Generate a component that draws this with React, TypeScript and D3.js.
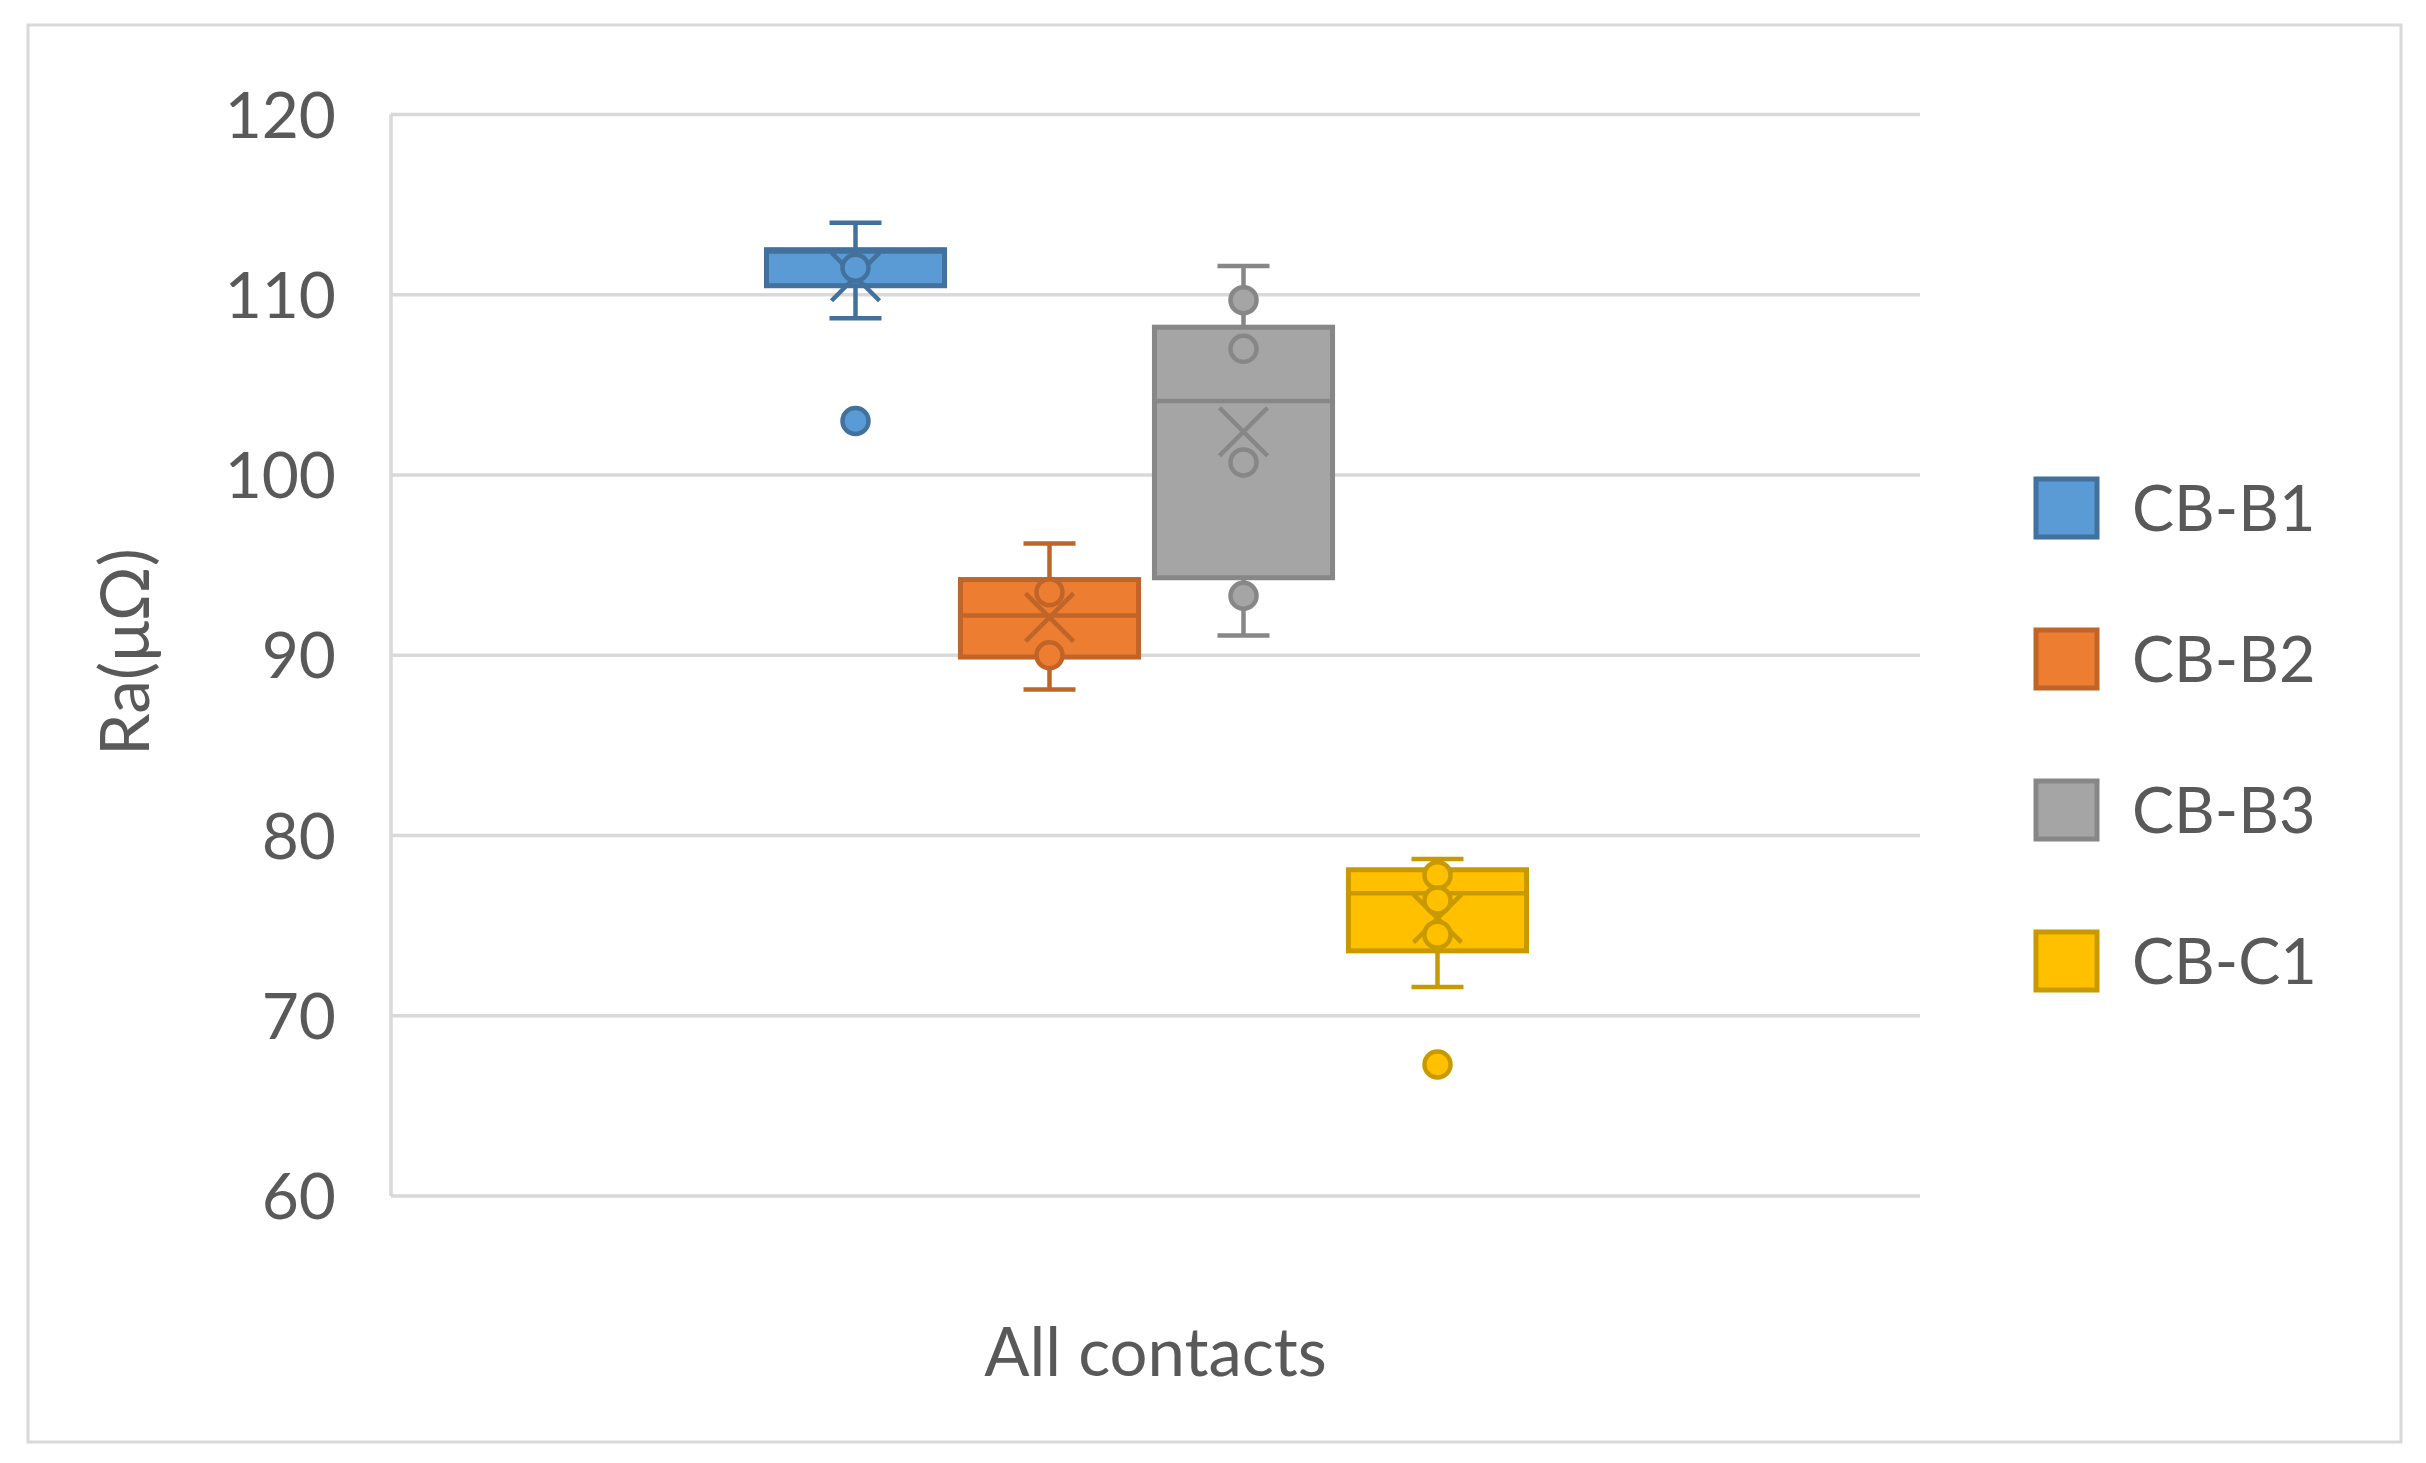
import * as d3 from "d3";

// values (µΩ)
const category = "All contacts";
const seriesNames = ["CB-B1", "CB-B2", "CB-B3", "CB-C1"];
const fills = ["#5B9BD5", "#ED7D31", "#A5A5A5", "#FFC000"];
const strokes = ["#41719C", "#C0652A", "#878787", "#C99A00"];

const whiskerLow = [108.7, 88.1, 91.1, 71.6];
const q1 = [110.5, 89.9, 94.3, 73.6];
const medians = [112.4, 92.2, 104.1, 76.8];
const q3 = [112.5, 94.2, 108.2, 78.1];
const whiskerHigh = [114.0, 96.2, 111.6, 78.7];
const means = [111.0, 92.1, 102.4, 75.4];
const innerPoints = [[111.5], [93.5, 90.0], [109.7, 107.0, 100.7, 93.3], [77.8, 76.4, 74.5]];
const outliers = [[103.0], [], [], [67.3]];

const yTicks = [60, 70, 80, 90, 100, 110, 120];

const W = 2426;
const H = 1463;
const FONT = "Lato, 'Open Sans', sans-serif";
const TEXT = "#595959";
const GRID = "#D9D9D9";

export default function App() {
  const plot = { left: 391, right: 1920, top: 114.5, bottom: 1196 };

  const y = d3.scaleLinear().domain([60, 120]).range([plot.bottom, plot.top]);
  const xCat = d3.scaleBand().domain([category]).range([plot.left, plot.right]);
  const catCenter = (xCat(category) as number) + xCat.bandwidth() / 2;

  // boxes sit a little left of the category centre in the original
  const groupShift = -9;
  const groupHalf = 388;
  const xSer = d3
    .scaleBand()
    .domain(seriesNames)
    .range([catCenter - groupHalf + groupShift, catCenter + groupHalf + groupShift])
    .paddingInner(0.082)
    .paddingOuter(0.041);

  const capHalf = 26;
  const xArm = 24;
  const r = 13;

  return (
    <div style={{ position: "absolute", left: 0, top: 0 }}>
      <svg width={W} height={H} style={{ display: "block", background: "#fff" }}>
        {/* chart border */}
        <rect x={28} y={25} width={2373} height={1417} fill="#fff" stroke={GRID} strokeWidth={3} />

        {/* gridlines */}
        {yTicks.map((t) => (
          <line key={t} x1={plot.left} x2={plot.right} y1={y(t)} y2={y(t)} stroke={GRID} strokeWidth={3.5} />
        ))}
        <line x1={plot.left} x2={plot.left} y1={y(120)} y2={y(60)} stroke={GRID} strokeWidth={3.5} />

        {/* tick labels */}
        {yTicks.map((t) => (
          <text
            key={t}
            x={336}
            y={y(t)}
            dy="0.36em"
            textAnchor="end"
            fontFamily={FONT}
            fontSize={64}
            fill={TEXT}
          >
            {t}
          </text>
        ))}

        {/* axis titles */}
        <text
          transform={`translate(149,${652}) rotate(-90)`}
          textAnchor="middle"
          fontFamily={FONT}
          fontSize={68}
          fill={TEXT}
        >
          Ra(μΩ)
        </text>
        <text x={catCenter} y={1376} textAnchor="middle" fontFamily={FONT} fontSize={67} fill={TEXT}>
          {category}
        </text>

        {/* boxes */}
        {seriesNames.map((s, i) => {
          const x0 = xSer(s) as number;
          const bw = xSer.bandwidth();
          const cx = x0 + bw / 2;
          const my = y(means[i]);
          return (
            <g key={s}>
              <line x1={cx} x2={cx} y1={y(whiskerHigh[i])} y2={y(q3[i])} stroke={strokes[i]} strokeWidth={4.5} />
              <line x1={cx} x2={cx} y1={y(q1[i])} y2={y(whiskerLow[i])} stroke={strokes[i]} strokeWidth={4.5} />
              <line x1={cx - capHalf} x2={cx + capHalf} y1={y(whiskerHigh[i])} y2={y(whiskerHigh[i])} stroke={strokes[i]} strokeWidth={4.5} />
              <line x1={cx - capHalf} x2={cx + capHalf} y1={y(whiskerLow[i])} y2={y(whiskerLow[i])} stroke={strokes[i]} strokeWidth={4.5} />
              <rect
                x={x0}
                y={y(q3[i])}
                width={bw}
                height={y(q1[i]) - y(q3[i])}
                fill={fills[i]}
                stroke={strokes[i]}
                strokeWidth={5}
              />
              <line x1={x0} x2={x0 + bw} y1={y(medians[i])} y2={y(medians[i])} stroke={strokes[i]} strokeWidth={4.5} />
              <path
                d={`M${cx - xArm},${my - xArm}L${cx + xArm},${my + xArm}M${cx + xArm},${my - xArm}L${cx - xArm},${my + xArm}`}
                stroke={strokes[i]}
                strokeWidth={4.5}
                fill="none"
              />
              {innerPoints[i].map((v, j) => (
                <circle key={`p${j}`} cx={cx} cy={y(v)} r={r} fill={fills[i]} stroke={strokes[i]} strokeWidth={4.5} />
              ))}
              {outliers[i].map((v, j) => (
                <circle key={`o${j}`} cx={cx} cy={y(v)} r={r} fill={fills[i]} stroke={strokes[i]} strokeWidth={4.5} />
              ))}
            </g>
          );
        })}

        {/* legend */}
        {seriesNames.map((s, i) => {
          const ly = 508 + i * 151;
          return (
            <g key={`leg-${s}`}>
              <rect x={2036} y={ly - 29} width={61} height={58} fill={fills[i]} stroke={strokes[i]} strokeWidth={5} />
              <text x={2132} y={ly + 23} fontFamily={FONT} fontSize={63} fill={TEXT}>
                {s}
              </text>
            </g>
          );
        })}
      </svg>
    </div>
  );
}
